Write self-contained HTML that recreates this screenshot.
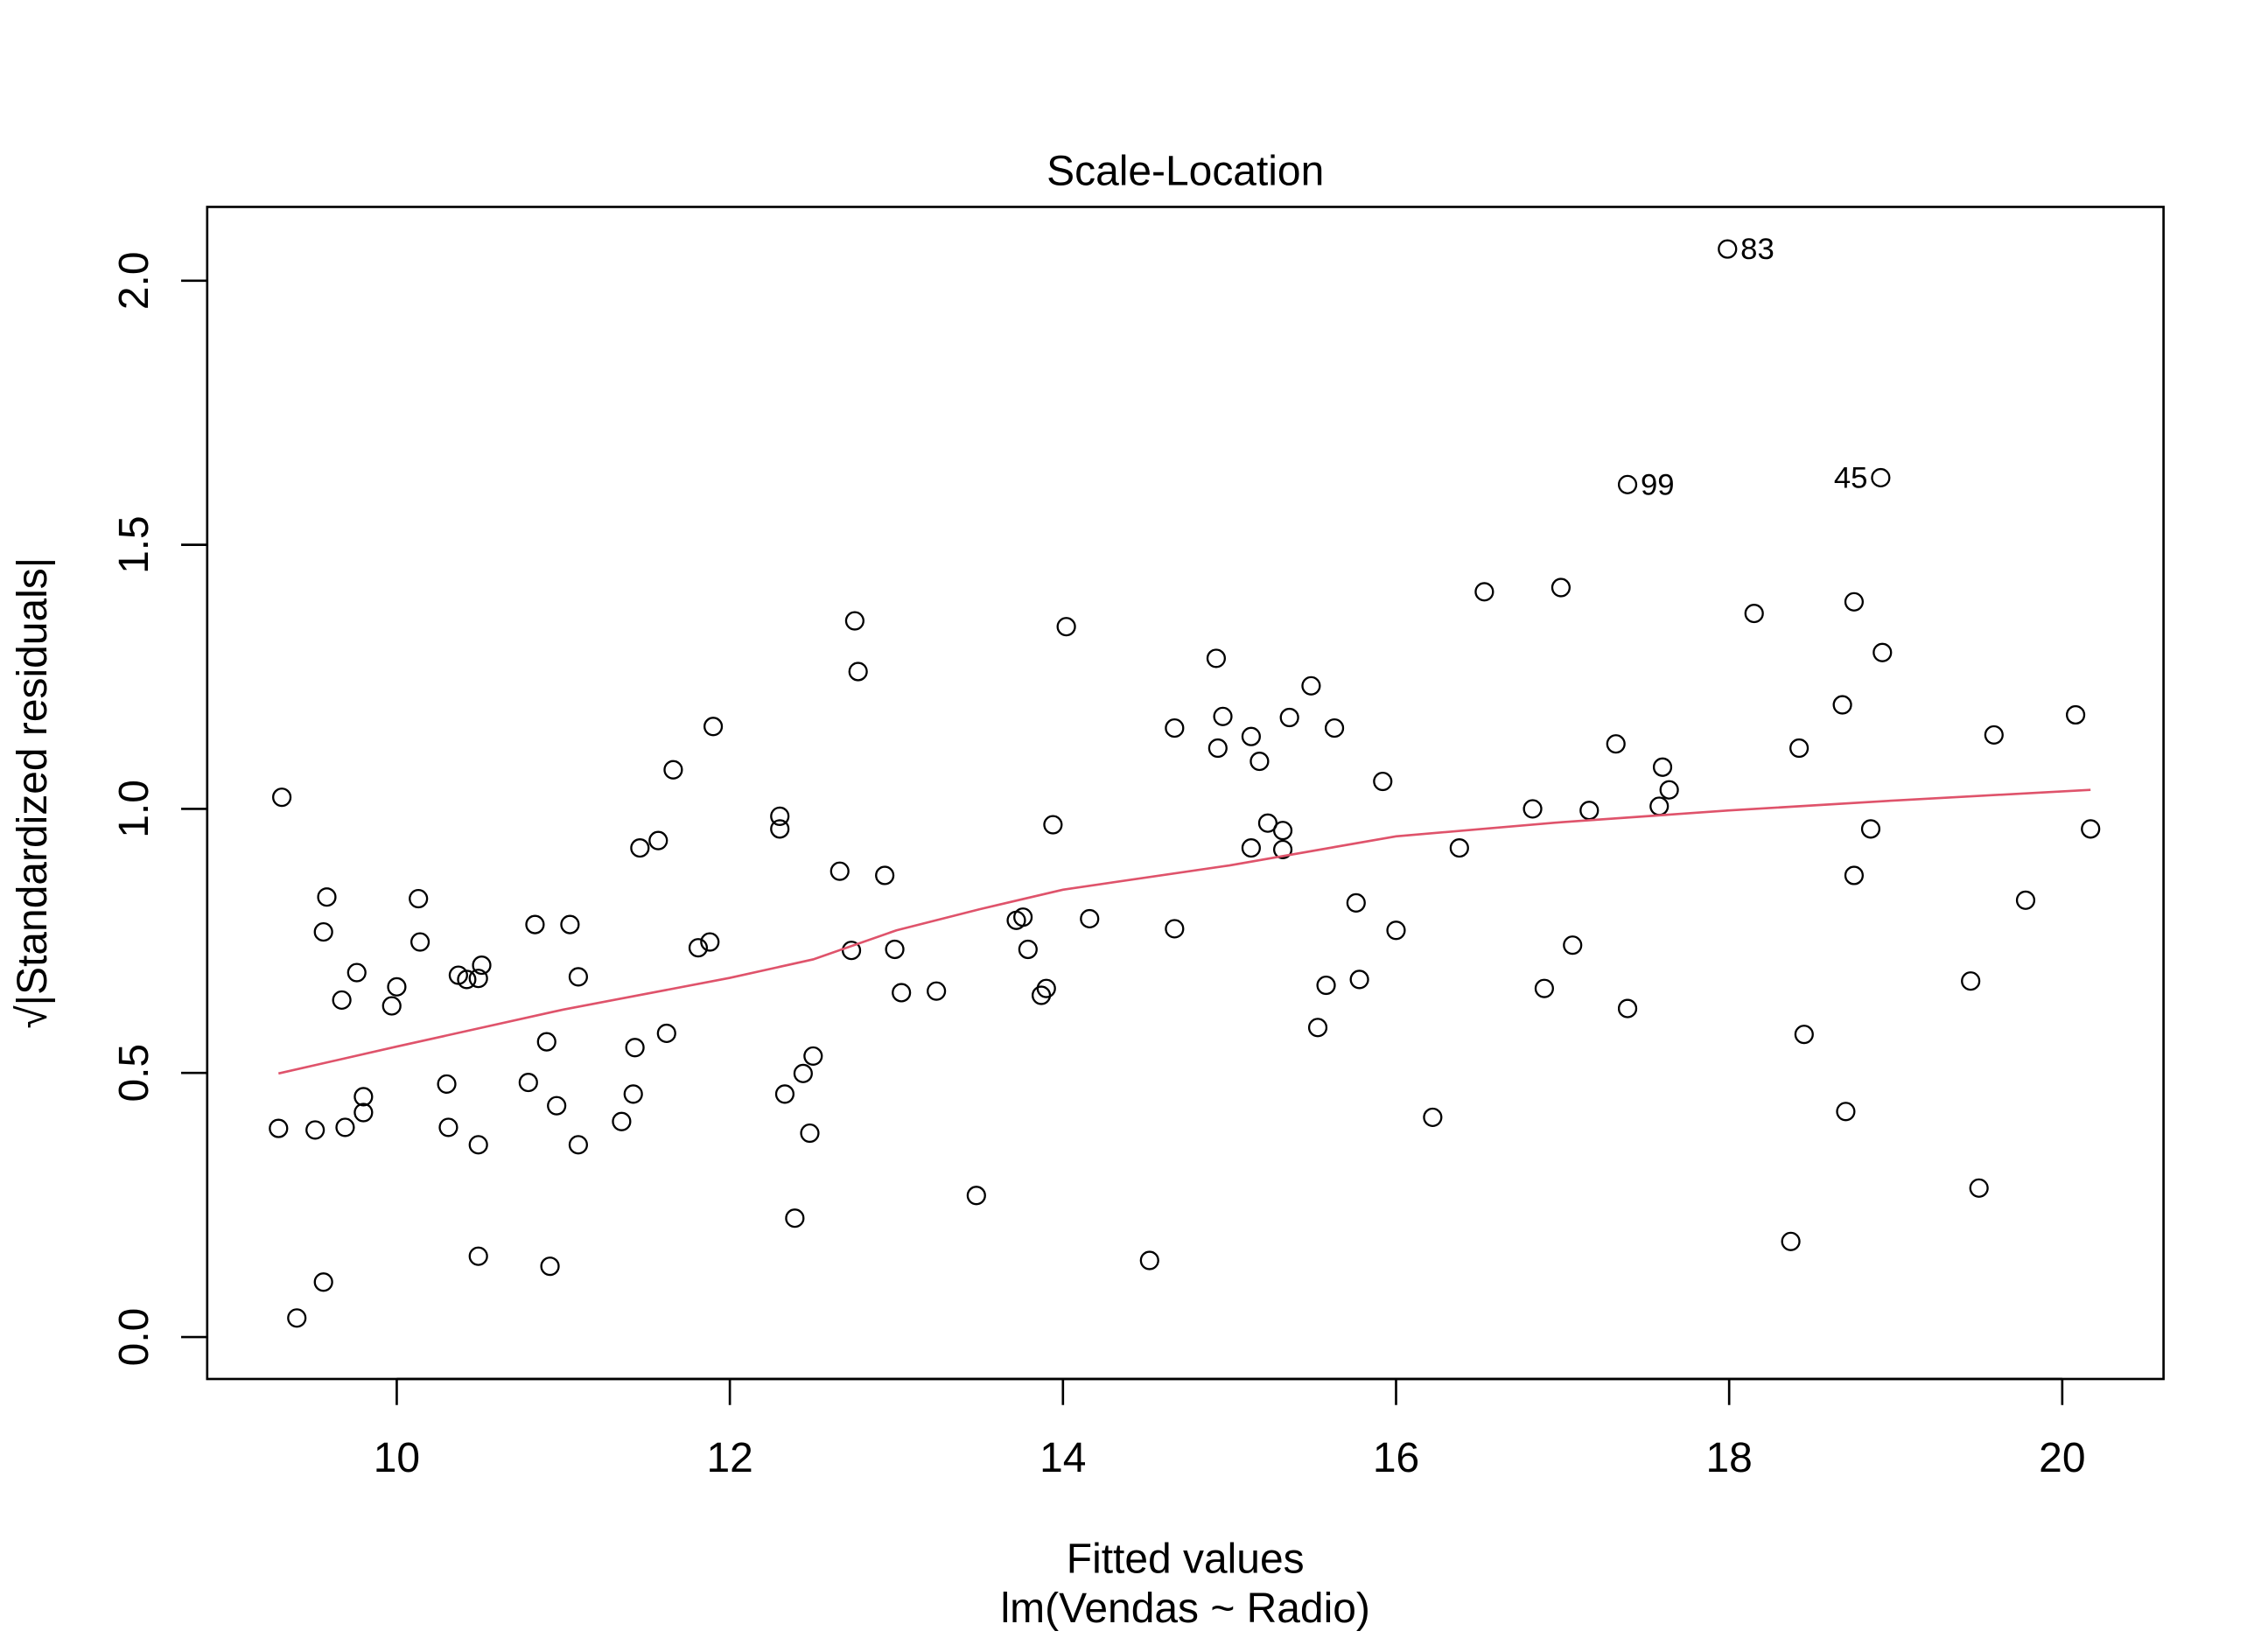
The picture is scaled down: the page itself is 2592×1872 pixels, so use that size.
<!DOCTYPE html>
<html><head><meta charset="utf-8"><style>
html,body{margin:0;padding:0;background:#fff}
svg{display:block}
text{font-family:"Liberation Sans",Arial,sans-serif;fill:#000}
</style></head><body>
<svg id="chart" width="2592" height="1872" viewBox="0 0 1567 1132" xmlns="http://www.w3.org/2000/svg">
<rect x="0" y="0" width="1567" height="1132" fill="#fff"/>
<text x="819" y="128" font-size="29" text-anchor="middle">Scale-Location</text>
<rect x="143" y="143" width="1352" height="810" fill="none" stroke="#000" stroke-width="1.6"/>
<g id="xaxis"></g>
<g id="yaxis"></g>
<text x="819" y="1087" font-size="29" text-anchor="middle">Fitted values</text>
<text x="819" y="1121" font-size="29" text-anchor="middle">lm(Vendas ~ Radio)</text>
<text transform="translate(32,548) rotate(-90)" font-size="29" text-anchor="middle">√|Standardized residuals|</text>
<g id="points"></g>
<g id="smooth"></g>
<g id="labels"></g>
</svg>
<script>
const xTicks=[10,12,14,16,18,20];
const yTicks=[0.0,0.5,1.0,1.5,2.0];
const yTickLabels=["0.0","0.5","1.0","1.5","2.0"];
const fittedX=[9.31,9.29,9.40,9.51,9.56,9.56,9.58,9.67,9.69,9.76,9.80,9.80,9.97,10.00,10.13,10.14,10.30,10.31,10.37,10.42,10.49,10.51,10.49,10.49,10.79,10.83,10.90,10.92,10.96,11.04,11.09,11.09,11.35,11.42,11.43,11.46,11.57,11.62,11.66,11.81,11.88,11.90,12.30,12.30,12.33,12.39,12.44,12.48,12.50,12.66,12.73,12.75,12.77,12.93,12.99,13.03,13.24,13.48,13.72,13.76,13.79,13.87,13.90,13.94,14.02,14.16,14.52,14.67,14.67,14.92,14.93,14.96,15.13,15.13,15.18,15.23,15.32,15.32,15.36,15.49,15.53,15.58,15.63,15.76,15.78,15.92,16.00,16.22,16.38,16.53,16.82,16.89,16.99,17.06,17.16,17.32,17.39,17.39,17.58,17.60,17.64,17.99,18.15,18.37,18.42,18.45,18.68,18.70,18.75,18.75,18.85,18.91,18.92,19.45,19.50,19.59,19.78,20.08,20.17];
const sqrtResid=[1.022,0.395,0.036,0.392,0.104,0.767,0.833,0.638,0.397,0.690,0.455,0.425,0.627,0.663,0.830,0.748,0.479,0.397,0.685,0.677,0.679,0.704,0.364,0.153,0.482,0.781,0.559,0.134,0.438,0.781,0.682,0.364,0.408,0.460,0.548,0.926,0.940,0.575,1.074,0.737,0.748,1.156,0.986,0.962,0.460,0.225,0.499,0.386,0.532,0.882,0.732,1.356,1.260,0.874,0.734,0.652,0.655,0.268,0.789,0.795,0.734,0.647,0.660,0.970,1.345,0.792,0.145,1.153,0.773,1.285,1.115,1.175,1.137,0.926,1.090,0.973,0.959,0.923,1.173,1.233,0.586,0.666,1.153,0.822,0.677,1.052,0.770,0.416,0.926,1.411,1.000,0.660,1.419,0.742,0.997,1.123,0.622,1.614,1.005,1.079,1.036,2.060,1.370,0.181,1.115,0.573,1.197,0.427,1.392,0.874,0.962,1.627,1.296,0.674,0.282,1.140,0.827,1.178,0.962];
const smoothX=[9.29,10,11,12,12.5,13,13.5,14,15,16,17,18,19,20.17];
const smoothY=[0.499,0.55,0.62,0.68,0.715,0.77,0.81,0.847,0.893,0.948,0.975,0.997,1.016,1.036];
const labelNames=["83","99","45"];
const labelX=[17.99,17.39,18.91];
const labelY=[2.060,1.614,1.627];
const labelSide=[1,1,-1];

const NS="http://www.w3.org/2000/svg";
function sx(v){return 274+(v-10)*115.1;}
function sy(v){return 924-v*365;}
function mk(tag,attrs,parent){const e=document.createElementNS(NS,tag);for(const k in attrs)e.setAttribute(k,attrs[k]);parent.appendChild(e);return e;}

const xa=document.getElementById('xaxis');
mk('line',{x1:sx(xTicks[0]),x2:sx(xTicks[xTicks.length-1]),y1:953,y2:953,stroke:'#000','stroke-width':1.6},xa);
xTicks.forEach(t=>{
  const l=mk('line',{x1:sx(t),x2:sx(t),y1:953,y2:971,stroke:'#000','stroke-width':1.6},xa);
  
  
  const tx=mk('text',{x:sx(t),y:1017,'font-size':29,'text-anchor':'middle'},xa);
  tx.textContent=String(t);
  
  
});
const ya=document.getElementById('yaxis');
yTicks.forEach((t,i)=>{
  const l=mk('line',{x1:125,x2:143,y1:sy(t),y2:sy(t),stroke:'#000','stroke-width':1.6},ya);
  
  
  const tx=mk('text',{transform:`translate(102,${sy(t)}) rotate(-90)`,'font-size':29,'text-anchor':'middle'},ya);
  tx.textContent=yTickLabels[i];
  
  
});
const pg=document.getElementById('points');
fittedX.forEach((x,i)=>{
  const c=mk('circle',{cx:sx(x),cy:sy(sqrtResid[i]),r:6,fill:'none',stroke:'#000','stroke-width':1.4},pg);
  
  
});
const sg=document.getElementById('smooth');
const pl=mk('polyline',{points:smoothX.map((x,i)=>sx(x)+','+sy(smoothY[i])).join(' '),fill:'none',stroke:'#DF536B','stroke-width':1.6},sg);


const lg=document.getElementById('labels');
labelNames.forEach((n,i)=>{
  const side=labelSide[i];
  const tx=mk('text',{x:sx(labelX[i])+side*9,y:sy(labelY[i])+7,'font-size':21,'text-anchor':side>0?'start':'end'},lg);
  tx.textContent=n;
  
  
});
</script>
</body></html>
